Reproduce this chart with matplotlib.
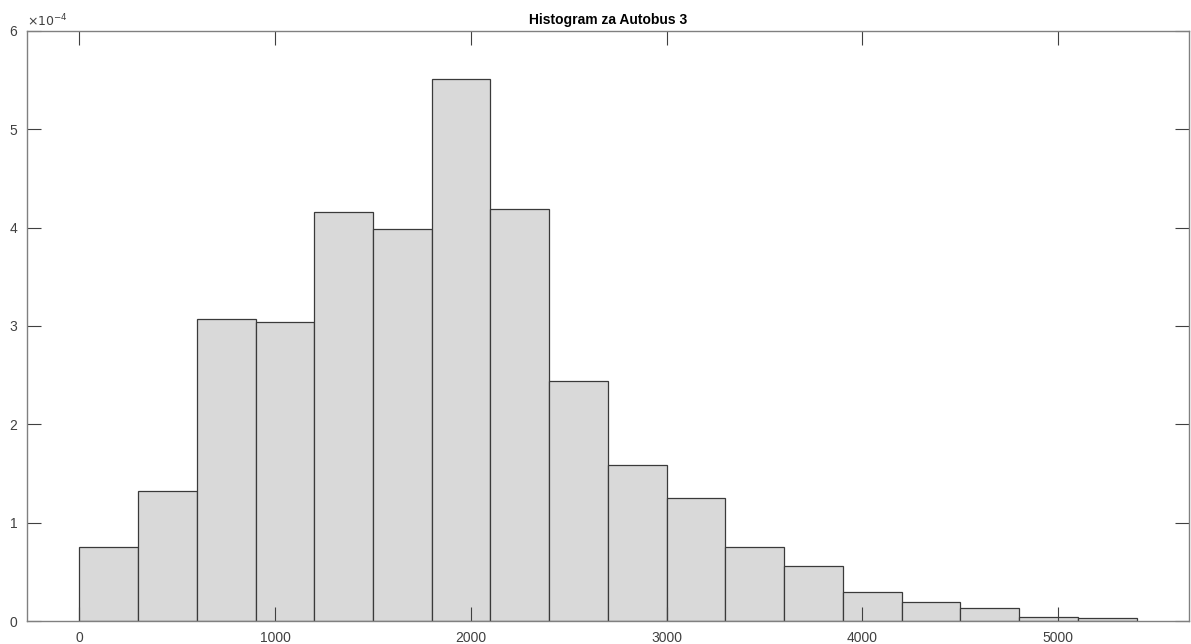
import matplotlib.pyplot as plt
import numpy as np

plt.rcParams['font.family'] = ['Liberation Sans', 'DejaVu Sans']

# bin edges 0:300:5400, density values (x 1e-4)
bin_edges = np.arange(0, 5401, 300)
density_e4 = [0.756, 1.32, 3.068, 3.04, 4.163, 3.99, 5.515, 4.19, 2.444,
              1.583, 1.254, 0.756, 0.56, 0.295, 0.196, 0.129, 0.037, 0.034]
density = np.array(density_e4) * 1e-4

xticks = [0, 1000, 2000, 3000, 4000, 5000]
yticks_e4 = [0, 1, 2, 3, 4, 5, 6]

fig = plt.figure(figsize=(11.91, 6.44), dpi=100)
ax = fig.add_axes([0.0227, 0.0357, 0.9753, 0.9162])

ax.bar(bin_edges[:-1], density, width=np.diff(bin_edges), align='edge',
       color='#d9d9d9', edgecolor='#3a3a3a', linewidth=0.9)

ax.set_xlim(-267, 5666)
ax.set_ylim(0, 6e-4)
ax.set_xticks(xticks)
ax.set_yticks(np.array(yticks_e4) * 1e-4)
ax.set_yticklabels([str(v) for v in yticks_e4])
ax.text(0.0, 1.003, r'$\times10^{-4}$', transform=ax.transAxes,
        fontsize=9, color='#404040', ha='left', va='bottom')

ax.tick_params(direction='in', length=10, width=0.8, colors='#404040',
               top=True, right=True, labelsize=10, pad=7)
for s in ax.spines.values():
    s.set_color('#808080')
    s.set_linewidth(1.0)

ax.set_title('Histogram za Autobus 3', fontsize=10, fontweight='bold', pad=5)

fig.savefig('out.png', dpi=100)
